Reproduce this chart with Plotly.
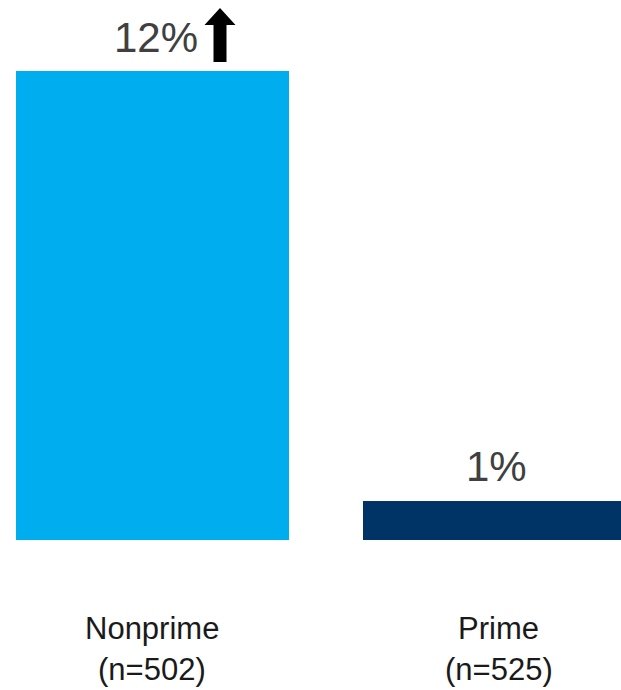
import plotly.graph_objects as go

# Share of borrowers, by credit segment
segments = ["Nonprime", "Prime"]
sample_sizes = [502, 525]
values = [12, 1]
bar_colors = ["#00AEEF", "#003366"]

W, H = 621, 690
plot_bottom = 540           # pixel row of the zero line
px_per_unit = 469 / 12      # vertical scale
cat_step = 347              # pixels between category centres
first_center = 152.5        # pixel column of first category centre

x_pos = list(range(len(segments)))
x_range = [(0 - first_center) / cat_step, (W - first_center) / cat_step]
y_range = [0, plot_bottom / px_per_unit]

fig = go.Figure(
    go.Bar(
        x=x_pos,
        y=values,
        width=273 / cat_step,
        marker=dict(color=bar_colors, line=dict(width=0)),
        hoverinfo="skip",
    )
)

label_font = "Liberation Sans, Arial"
value_xshift = [3, -3]
annotations = []
for i, (seg, n, v) in enumerate(zip(segments, sample_sizes, values)):
    # value label above each bar
    annotations.append(dict(
        x=i, y=v, xref="x", yref="y", text=f"{v}%", showarrow=False,
        yanchor="middle", yshift=34, xshift=value_xshift[i],
        font=dict(family=label_font, size=42, color="#404040"),
    ))
    # two-line category label below the axis
    annotations.append(dict(
        x=i, y=0, xref="x", yref="y", text=seg, showarrow=False,
        yanchor="middle", yshift=-(628 - plot_bottom), xshift=-1,
        font=dict(family=label_font, size=31, color="#1a1a1a"),
    ))
    annotations.append(dict(
        x=i, y=0, xref="x", yref="y", text=f"(n={n})", showarrow=False,
        yanchor="middle", yshift=-(669 - plot_bottom), xshift=-1,
        font=dict(family=label_font, size=31, color="#1a1a1a"),
    ))

# upward arrow next to the first value label
arrow_path = "M 61 9 L 74 9 L 74 46 L 83 46 L 67.5 63 L 52 46 L 61 46 Z"
fig.add_shape(
    type="path", path=arrow_path,
    xref="x", yref="y", xsizemode="pixel", ysizemode="pixel",
    xanchor=0, yanchor=values[0],
    fillcolor="black", line=dict(width=0),
)

fig.update_layout(
    width=W, height=H,
    margin=dict(l=0, r=0, t=0, b=H - plot_bottom, pad=0),
    paper_bgcolor="white", plot_bgcolor="white",
    showlegend=False,
    annotations=annotations,
    xaxis=dict(range=x_range, visible=False, fixedrange=True),
    yaxis=dict(range=y_range, visible=False, fixedrange=True),
)

fig.write_html("out.html", config={"displayModeBar": False})
